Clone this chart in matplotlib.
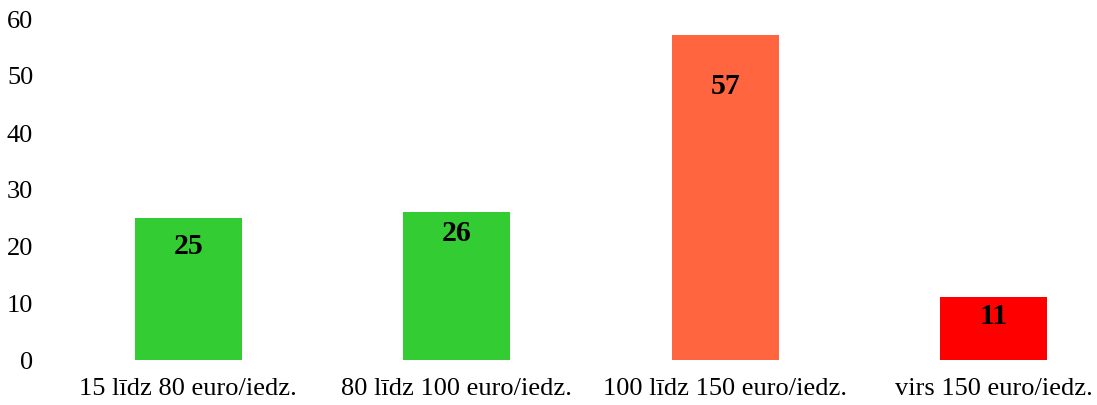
import numpy as np
import matplotlib
matplotlib.use("Agg")
import matplotlib.pyplot as plt

# dati
kategorijas = ["15 līdz 80 euro/iedz.", "80 līdz 100 euro/iedz.",
               "100 līdz 150 euro/iedz.", "virs 150 euro/iedz."]
vertibas = [25, 26, 57, 11]
krasas = ["#33cc33", "#33cc33", "#ff6640", "#ff0000"]
y_ticks = [0, 10, 20, 30, 40, 50, 60]

# etiķešu nobīde no stabiņa augšas (punktos)
nobides = [-20.5, -15, -36, -13]

plt.rcParams['font.family'] = ['Liberation Serif', 'DejaVu Serif']

fig = plt.figure(figsize=(10.97, 4.06), dpi=100)
ax = fig.add_axes([54/1097, 45/406, 1 - 54/1097, (361-19)/406])

x = np.arange(len(kategorijas))
ax.bar(x, vertibas, width=0.4, color=krasas)

for xi, v, d in zip(x, vertibas, nobides):
    ax.annotate(str(v), (xi, v), xytext=(0, d), textcoords="offset points",
                ha="center", va="center", fontsize=21.5, fontweight="bold")

ax.set_ylim(0, 60)
ax.set_xlim(-0.5, 3.5 - 31/268.5)
ax.set_yticks(y_ticks)
ax.set_xticks(x)
ax.set_xticklabels(kategorijas)
ax.tick_params(axis="both", length=0, labelsize=19)
ax.tick_params(axis="y", pad=15)
ax.tick_params(axis="x", pad=12.5)
for s in ax.spines.values():
    s.set_visible(False)

fig.savefig("out.png", dpi=100)
